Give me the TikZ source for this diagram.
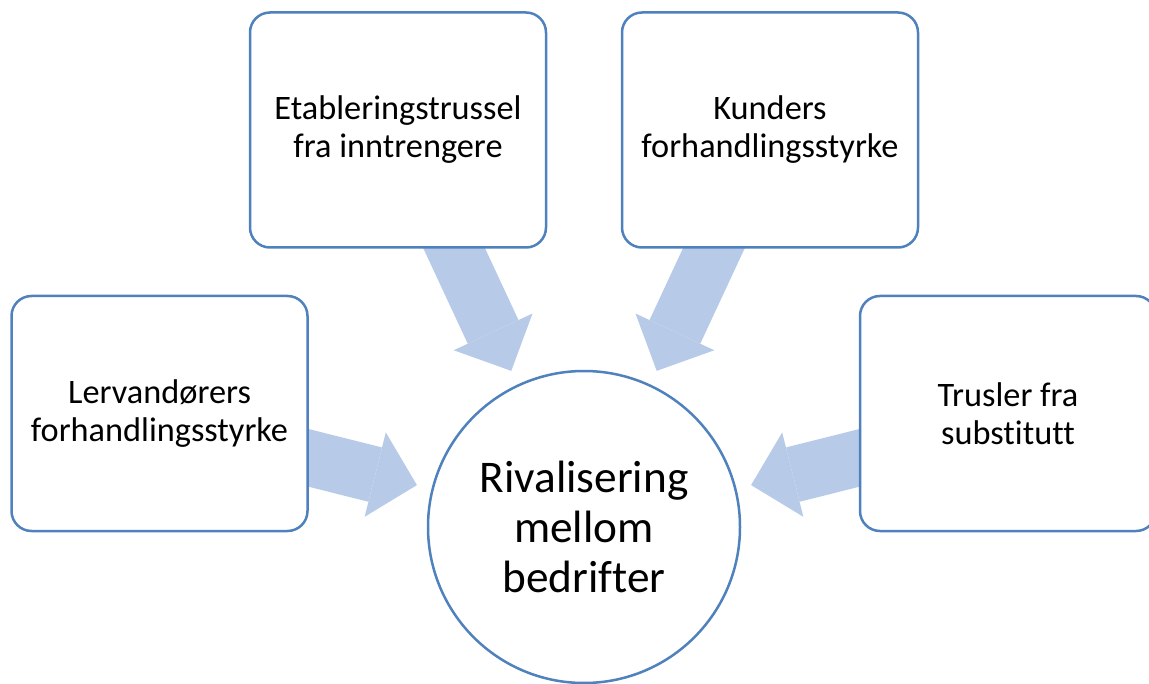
\documentclass[tikz,border=0pt]{standalone}
\usepackage{fontspec}
\setmainfont{Carlito}[Ligatures=NoCommon]
\usetikzlibrary{arrows.meta,backgrounds}
\definecolor{boxline}{HTML}{4F81BD}
\definecolor{arrowfill}{HTML}{B7CBE8}
\begin{document}
\begin{tikzpicture}[x=1pt,y=-1pt,
    forcebox/.style={draw=boxline,line width=2.5pt,fill=white,rounded corners=20pt,
        minimum width=296pt,minimum height=235pt,inner sep=0pt,align=center,
        font=\fontsize{34.3}{38}\selectfont},
    rivalnode/.style={draw=boxline,line width=2.5pt,fill=white,circle,
        minimum size=312pt,inner sep=0pt,align=center,
        font=\fontsize{45.3}{50}\selectfont},
    pusharrow/.style={draw=arrowfill,line width=56pt,shorten >=15pt,
        -{Triangle[width=87pt,length=43pt,line width=0pt]}}]
    
    \useasboundingbox (0,0) rectangle (1149,684);
    
    %Boxes
    \node[forcebox] (etab) at (398,130) {Etableringstrussel\\fra inntrengere};
    \node[forcebox] (kund) at (770,130) {Kunders\\forhandlingsstyrke};
    \node[forcebox] (lev) at (159.5,413.5) {Lervandørers\\forhandlingsstyrke};
    \node[forcebox] (subst) at (1008,413.5) {Trusler fra\\substitutt};
    
    %Circle
    \node[rivalnode] (rival) at (584,527) {Rivalisering\\mellom\\bedrifter};
    
    %Arrows
    \coordinate (etab-in) at (441,220);
    \coordinate (kund-in) at (727,220);
    \coordinate (lev-in) at (280,450.7);
    \coordinate (subst-in) at (888,450.7);
    \begin{scope}[on background layer]
    \draw[pusharrow] (etab-in) -- (rival);
    \draw[pusharrow] (kund-in) -- (rival);
    \draw[pusharrow] (lev-in) -- (rival);
    \draw[pusharrow] (subst-in) -- (rival);
    \end{scope}
    \end{tikzpicture}
\end{document}
